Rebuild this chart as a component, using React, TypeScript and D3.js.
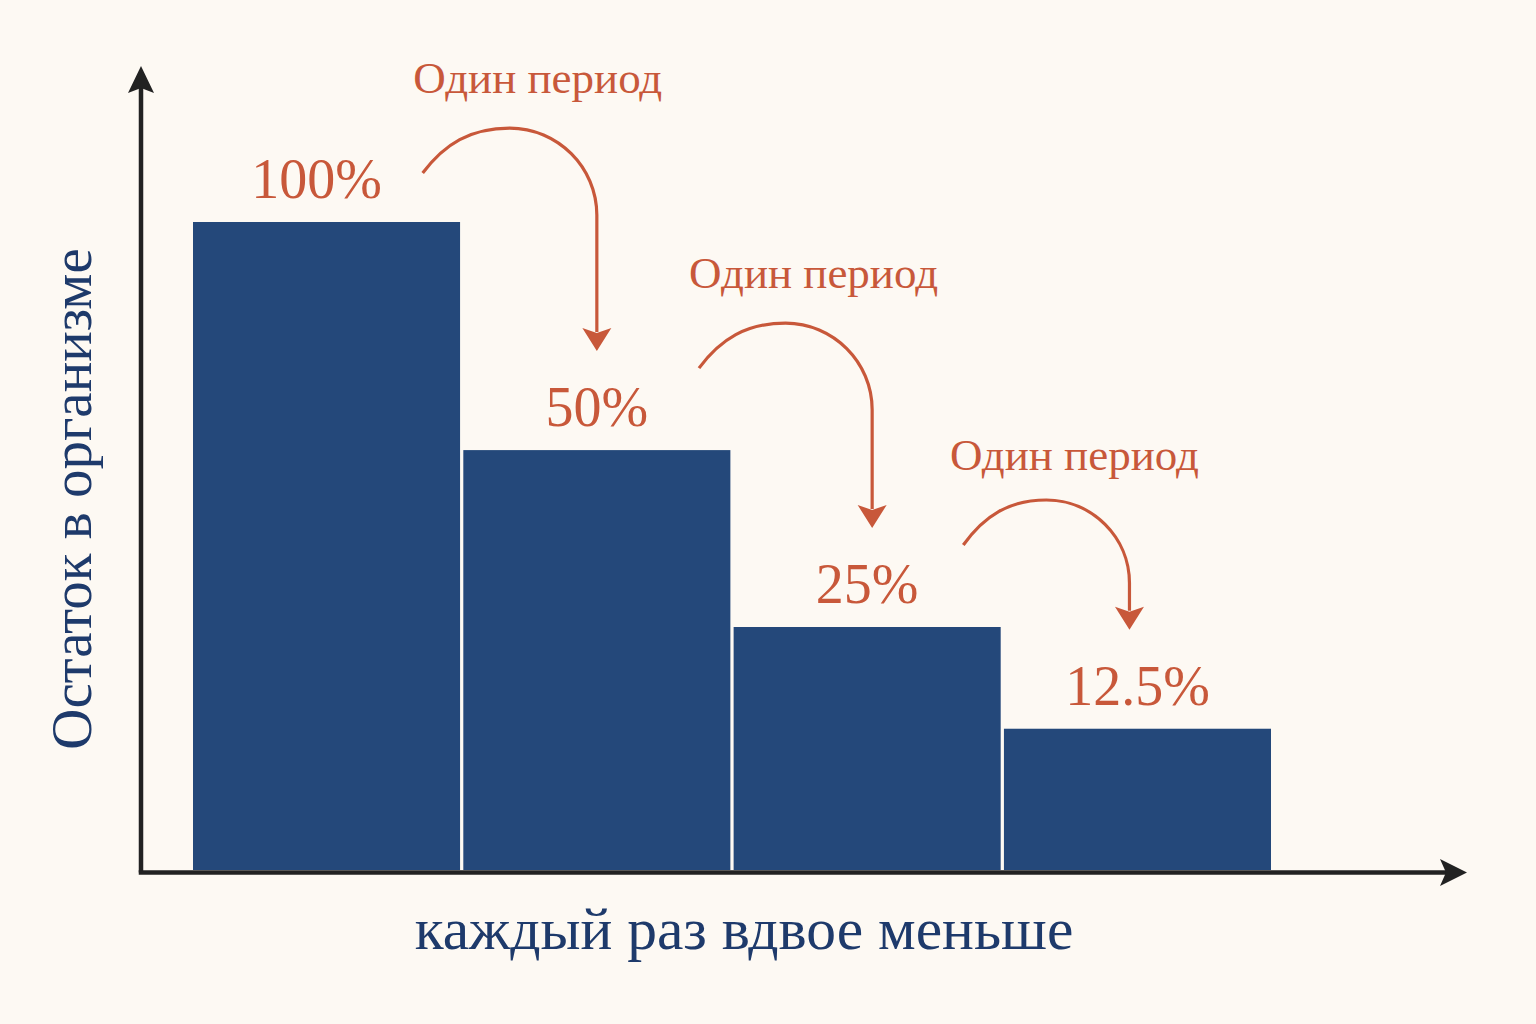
import React from "react";
import * as d3 from "d3";

// ---- data ----
const steps = ["0", "1", "2", "3"];
const remainingPct = [100, 50, 25, 12.5];
// heights of the bars as drawn in the picture (not to scale with the labels)
const barHeights = [100, 64.8, 37.5, 21.8];
const valueLabels = ["100%", "50%", "25%", "12.5%"];
const periodLabel = "Один период";
// peak level of each "one period" arrow, in the same units as barHeights
const periodLevels = [114.5, 84.4, 57.1];
const yTitle = "Остаток в организме";
const xTitle = "каждый раз вдвое меньше";

const W = 1536;
const H = 1024;
const BG = "#fdf9f3";
const BAR = "#24487a";
const ACCENT = "#c8583a";
const NAVY = "#1e3a6b";
const AXIS = "#222222";
const FONT = "'Liberation Serif', 'Times New Roman', serif";

export default function App() {
  const x = d3.scaleBand<string>().domain(steps).range([193, 1271]).paddingInner(0.012).paddingOuter(0);
  const y = d3.scaleLinear().domain([0, 100]).range([870, 222]);
  const bw = x.bandwidth();

  const axisX = 141;
  const axisY = 872.5;

  const arrows = periodLevels.map((lvl, i) => {
    const x0 = x(steps[i]) as number;
    const sx = x0 + 0.86 * bw + (i === 1 ? 6 : 0);
    const ex = (x(steps[i + 1]) as number) + bw / 2 + (i === 1 ? 5 : i === 2 ? -8 : 0);
    const peakY = y(lvl);
    const sy = peakY + 45;
    const peakX = sx + 0.5 * (ex - sx);
    const r = ex - peakX;
    const tipY = y(barHeights[i + 1]) - 99;
    const head = 23;
    const path = d3.path();
    path.moveTo(sx, sy);
    path.bezierCurveTo(sx + 0.25 * (peakX - sx), sy - 0.65 * (sy - peakY), peakX - 0.45 * (peakX - sx), peakY, peakX, peakY);
    path.bezierCurveTo(peakX + 0.55 * r, peakY, ex, peakY + 0.45 * r, ex, peakY + r);
    path.lineTo(ex, tipY - head + 4);
    const headPts = [
      [ex, tipY],
      [ex - 14.5, tipY - head],
      [ex, tipY - head + 5],
      [ex + 14.5, tipY - head],
    ];
    return {
      d: path.toString(),
      head: headPts.map((p) => p.join(",")).join(" "),
      textX: (sx + ex) / 2 + 28,
      textY: peakY - 35 + (i === 2 ? 5 : 0),
    };
  });

  return (
    <svg width={W} height={H} style={{ position: "absolute", left: 0, top: 0, background: BG }}>
      <rect x={0} y={0} width={W} height={H} fill={BG} />

      {/* bars */}
      {steps.map((s, i) => (
        <rect key={s} x={x(s)} y={y(barHeights[i])} width={bw} height={y(0) - y(barHeights[i])} fill={BAR} />
      ))}

      {/* axes */}
      <line x1={axisX} y1={axisY} x2={axisX} y2={86} stroke={AXIS} strokeWidth={4.5} />
      <polygon points={`${axisX},66 ${axisX - 13},93 ${axisX},88 ${axisX + 13},93`} fill={AXIS} />
      <line x1={axisX - 2.25} y1={axisY} x2={1450} y2={axisY} stroke={AXIS} strokeWidth={4.5} />
      <polygon points={`1467,${axisY} 1440,${axisY - 13.5} 1446,${axisY} 1440,${axisY + 13.5}`} fill={AXIS} />

      {/* value labels */}
      {steps.map((s, i) => (
        <text
          key={"v" + s}
          x={(x(s) as number) + bw / 2 + (i === 0 ? -10 : 0)}
          y={y(barHeights[i]) - 24}
          textAnchor="middle"
          fontFamily={FONT}
          fontSize={56}
          fill={ACCENT}
        >
          {valueLabels[i]}
        </text>
      ))}

      {/* period arrows */}
      {arrows.map((a, i) => (
        <g key={"a" + i}>
          <path d={a.d} fill="none" stroke={ACCENT} strokeWidth={3.2} />
          <polygon points={a.head} fill={ACCENT} />
          <text x={a.textX} y={a.textY} textAnchor="middle" fontFamily={FONT} fontSize={45} fill={ACCENT}>
            {periodLabel}
          </text>
        </g>
      ))}

      {/* axis titles */}
      <text
        transform={`translate(91,499) rotate(-90)`}
        textAnchor="middle"
        fontFamily={FONT}
        fontSize={57}
        fill={NAVY}
      >
        {yTitle}
      </text>
      <text x={744} y={949} textAnchor="middle" fontFamily={FONT} fontSize={59.5} fill={NAVY}>
        {xTitle}
      </text>
    </svg>
  );
}
